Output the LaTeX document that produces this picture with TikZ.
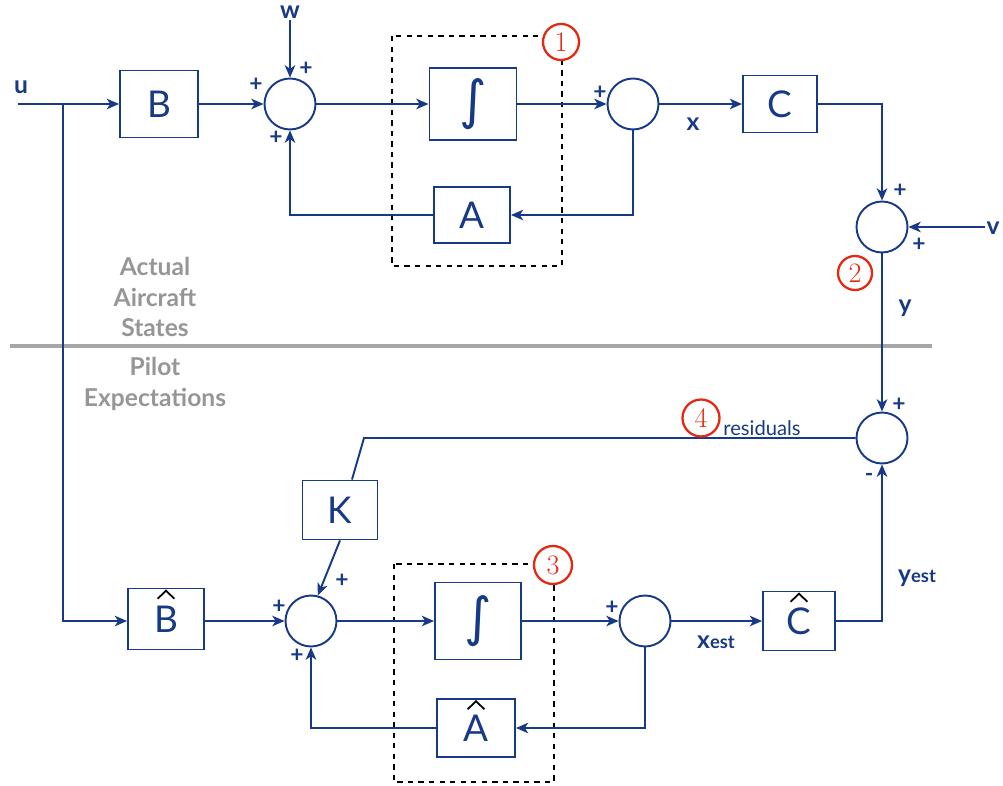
\documentclass[tikz,border=0pt]{standalone}
\usepackage{fontspec}
\setsansfont{Lato}
\newfontfamily\integfont{DejaVu Sans}
\usepackage{graphicx}
\usepackage{xcolor}
\usepackage{tikz}
\usetikzlibrary{
    positioning,
    arrows.meta,
}
\definecolor{diagblue}{RGB}{22,58,135}
\definecolor{markred}{RGB}{228,40,18}
\definecolor{sidegray}{RGB}{150,150,150}
\newcommand{\integ}{\resizebox{!}{0.80cm}{\integfont ∫}}
% black hat on an estimated block
\newcommand{\hatmark}[1]{\draw[hat line] ([xshift=-4.8pt, yshift=-6.4pt]#1.north) -- ++(4.8pt,4.6pt) -- ++(4.8pt,-4.6pt);}
\tikzset{
    % Block styles
    block/.style={rectangle, draw=diagblue, line width=1.1pt, text=diagblue, inner sep=0pt,
                  font=\sffamily\fontsize{21}{24}\selectfont},
    summer/.style={circle, draw=diagblue, line width=1.1pt, minimum size=1.02cm, inner sep=0pt},
    group box/.style={draw=black, dashed, line width=0.9pt},
    hat line/.style={draw=black, line width=1pt},
    % Arrow styles
    sig/.style={-{Stealth[length=7pt, width=6pt, inset=2pt]}, line width=1.1pt, diagblue},
    wire/.style={line width=1.1pt, diagblue},
    % Annotation styles
    sign/.style={font=\sffamily\bfseries\fontsize{13}{13}\selectfont, text=diagblue, inner sep=0pt},
    varlabel/.style={font=\sffamily\bfseries\fontsize{14}{14}\selectfont, text=diagblue, inner sep=0pt},
    marker/.style={circle, draw=markred, line width=1.3pt, text=markred, fill=white,
                   minimum size=0.72cm, inner sep=0pt, font=\fontsize{16}{16}\selectfont},
    side text/.style={font=\sffamily\bfseries\fontsize{14}{17.6}\selectfont, text=sidegray, align=center},
}

\begin{document}
\begin{tikzpicture}[x=0.02cm, y=-0.02cm]
    \useasboundingbox (0,0) rectangle (1003,786);

    % Divider
    \draw[sidegray!85, line width=2.2pt] (10,346) -- (932,346);
    \node[side text] (actual) at (155,297) {Actual\\Aircraft\\States};
    \node[side text] (pilot) at (155,384) {Pilot\\Expectations};

    % Actual aircraft
    \node[block, minimum width=1.56cm, minimum height=1.34cm] (B) at (159,104) {B};
    \node[summer] (sum1) at (290,104) {};
    \node[block, minimum width=1.74cm, minimum height=1.44cm] (int1) at (473,104) {\integ};
    \node[summer] (sum2) at (633,104) {};
    \node[block, minimum width=1.48cm, minimum height=1.14cm] (C) at (780,104) {C};
    \node[block, minimum width=1.52cm, minimum height=1.12cm] (A) at (472,215) {A};
    \node[summer] (sum3) at (882,227) {};
    \draw[group box] (392,36) rectangle (562,266);
    \node[marker] (m1) at (561,42) {1};
    \node[marker, minimum size=0.68cm] (m2) at (855,273) {2};

    % Pilot expectations
    \node[summer] (sum4) at (882,438) {};
    \node[block, minimum width=1.50cm, minimum height=1.18cm] (K) at (340,510) {K};
    \node[block, minimum width=1.52cm, minimum height=1.22cm] (Bh) at (166,619) {\raisebox{-2pt}{B}};
    \node[summer] (sum5) at (311,621) {};
    \node[block, minimum width=1.72cm, minimum height=1.54cm] (int2) at (478,621) {\integ};
    \node[summer] (sum6) at (645,621) {};
    \node[block, minimum width=1.44cm, minimum height=1.18cm] (Ch) at (799,621) {\raisebox{-2pt}{C}};
    \node[block, minimum width=1.56cm, minimum height=1.16cm] (Ah) at (476,728) {\raisebox{-2pt}{A}};
    \hatmark{Bh}
    \hatmark{Ch}
    \hatmark{Ah}
    \draw[group box] (394,564) rectangle (554,782);
    \node[marker, minimum size=0.76cm] (m3) at (553,565) {3};

    % Inputs
    \coordinate (uin) at (18,104);
    \coordinate (ubr) at (63,104);
    \coordinate (win) at (290,20);
    \coordinate (vin) at (985,227);
    \coordinate (rcorner) at (364,438);

    % Connectors, top
    \draw[sig] (uin) -- (B.west);
    \draw[sig] (ubr) |- (Bh.west |- sum5.west);
    \draw[sig] (win) -- (sum1.north);
    \draw[sig] (B.east) -- (sum1.west);
    \draw[sig] (sum1.east) -- (int1.west);
    \draw[sig] (int1.east) -- (sum2.west);
    \draw[sig] (sum2.east) -- (C.west);
    \draw[sig] (sum2.south) |- (A.east);
    \draw[sig] (A.west) -| (sum1.south);
    \draw[sig] (C.east) -| (sum3.north);
    \draw[sig] (vin) -- (sum3.east);
    \draw[sig] (sum3.south) -- (sum4.north);

    % Connectors, bottom
    \draw[wire] (sum4.west) -- (rcorner) -- ([xshift=0.24cm]K.north);
    \draw[sig] (K.south) -- (sum5.75);
    \draw[sig] (Bh.east |- sum5.west) -- (sum5.west);
    \draw[sig] (sum5.east) -- (int2.west);
    \draw[sig] (int2.east) -- (sum6.west);
    \draw[sig] (sum6.east) -- (Ch.west);
    \draw[sig] (sum6.south) |- (Ah.east);
    \draw[sig] (Ah.west) -| (sum5.south);
    \draw[sig] (Ch.east) -| (sum4.south);
    \node[marker, minimum size=0.74cm] (m4) at (701,418) {4};

    % Signs at the summers
    \foreach \px/\py/\s in {256/85/+, 306/69/+, 276/138/+, 600/93/+, 900/191/+, 919/245/+,
                            899/405/+, 869/477/-, 342/581/+, 279/607/+, 297/656/+, 612/608/+} {
        \node[sign] (sign\px) at (\px,\py) {\s};
    }

    % Signal names
    \node[varlabel] (lu) at (21,87) {u};
    \node[varlabel] (lw) at (290,12) {w};
    \node[varlabel] (lx) at (693,124) {x};
    \node[varlabel] (ly) at (905,308) {y};
    \node[varlabel] (lv) at (993,228) {v};
    \node[varlabel] (lxe) at (716,642) {x{\fontsize{10.5}{10}\selectfont est}};
    \node[varlabel] (lye) at (917,578) {y{\fontsize{10.5}{10}\selectfont est}};
    \node[font=\sffamily\fontsize{11.5}{11}\selectfont, text=diagblue, inner sep=0pt] (lres) at (762,428) {residuals};
\end{tikzpicture}
\end{document}
